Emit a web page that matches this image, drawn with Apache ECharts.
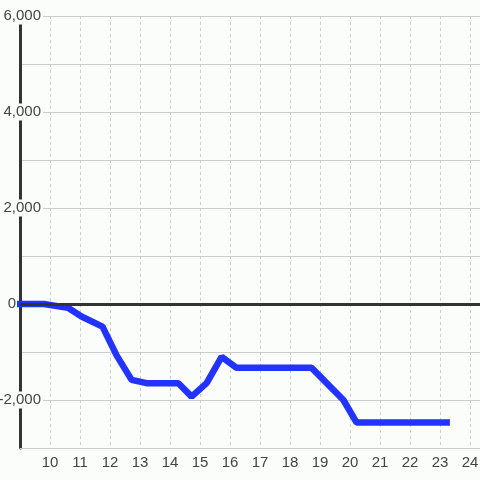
<!DOCTYPE html>
<html>
<head>
<meta charset="utf-8">
<script src="https://cdn.jsdelivr.net/npm/echarts@6/dist/echarts.min.js"></script>
<style>
  html, body { margin: 0; padding: 0; background: #fbfdfb; }
  #chart { width: 480px; height: 480px; }
</style>
</head>
<body>
<div id="chart"></div>
<script>
// x positions and values
var xs = [8.9, 9.8, 10.6, 11.05, 11.75, 12.22, 12.72, 13.22, 14.28, 14.72, 15.22, 15.72, 16.22, 18.72, 19.78, 20.22, 23.33];
var ys = [0, 0, -80, -260, -470, -1070, -1580, -1650, -1650, -1930, -1650, -1100, -1330, -1330, -2000, -2470, -2470];
var xMin = 9, xMax = 24.333;
var yMin = -3000, yMax = 6000;

var points = xs.map(function (x, i) { return [x, ys[i]]; });
var bg = '#fbfdfb';
var font = 'Liberation Sans, Arial, sans-serif';

var option = {
    backgroundColor: bg,
    animation: false,
    grid: { left: 20, right: 0, top: 16, bottom: 32, containLabel: false, outerBoundsMode: 'none' },
    xAxis: {
        type: 'value',
        min: xMin,
        max: xMax,
        interval: 1,
        axisLine: { onZero: false, lineStyle: { color: '#cccccc', width: 1 } },
        axisTick: { show: false },
        axisLabel: {
            color: '#444', fontSize: 15, fontFamily: font, margin: 7,
            showMinLabel: false, showMaxLabel: false
        },
        splitLine: { show: true, lineStyle: { color: '#cccccc', type: [3, 3], width: 1 } }
    },
    yAxis: {
        type: 'value',
        min: yMin,
        max: yMax,
        interval: 1000,
        axisLine: { show: true, lineStyle: { color: '#333', width: 3 } },
        axisTick: { show: false },
        axisLabel: {
            color: '#444', fontSize: 15, fontFamily: font,
            margin: -23, align: 'right',
            formatter: function (v) {
                if (v % 2000 !== 0) return '';
                if (v === 0) return '{z|0}';
                return '{a|' + v.toLocaleString('en-US') + '}';
            },
            rich: {
                a: { color: '#444', fontSize: 15, fontFamily: font, backgroundColor: bg, padding: [1, 2, 1, 0] },
                z: { color: '#444', fontSize: 15, fontFamily: font, padding: [0, 27, 0, 0] }
            },
            showMinLabel: false
        },
        splitLine: { show: true, lineStyle: { color: '#cccccc', width: 1 } }
    },
    series: [
        {
            type: 'line',
            data: [],
            silent: true,
            markLine: {
                silent: true,
                symbol: 'none',
                label: { show: false },
                lineStyle: { color: '#333', width: 3, type: 'solid' },
                data: [{ yAxis: 0 }]
            }
        },
        {
            type: 'line',
            data: points,
            showSymbol: false,
            clip: false,
            lineStyle: { color: '#2233ff', width: 6.5 },
            itemStyle: { color: '#2233ff' }
        }
    ]
};

var chart = echarts.init(document.getElementById('chart'));
chart.setOption(option);
</script>
</body>
</html>
